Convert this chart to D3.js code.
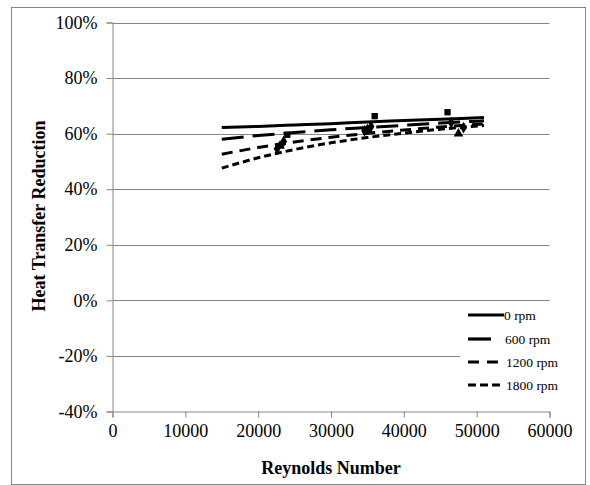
<!DOCTYPE html>
<html>
<head>
<meta charset="utf-8">
<script src="https://cdn.jsdelivr.net/npm/d3@7/dist/d3.min.js"></script>
<style>
  html, body { margin: 0; padding: 0; background: #fff; }
  svg { display: block; }
</style>
</head>
<body>
<svg id="chart" width="590" height="485"></svg>
<script>
// ---- data ----
const reynolds = [15000, 20000, 25000, 30000, 35000, 40000, 45000, 51000];
const rpm0    = [62.2, 62.6, 63.1, 63.6, 64.2, 64.7, 65.2, 65.8];
const rpm600  = [58.0, 59.3, 60.4, 61.4, 62.2, 63.0, 63.8, 64.6];
const rpm1200 = [52.6, 55.0, 57.0, 58.7, 60.1, 61.3, 62.4, 63.5];
const rpm1800 = [47.6, 51.3, 54.3, 56.7, 58.6, 60.2, 61.6, 62.9];

// measured points
const ptRe0    = [24000, 36000, 46000];
const ptVal0   = [59.6, 66.3, 67.7];
const ptRe600  = [23500, 35500, 46500];
const ptVal600 = [57.2, 62.6, 64.0];
const ptRe1200 = [23000, 35000, 47500];
const ptVal1200= [55.6, 61.6, 60.0];
const ptRe1800 = [22600, 34600, 48200];
const ptVal1800= [54.6, 61.0, 62.2];

const seriesNames = ["0 rpm", "600 rpm", "1200 rpm", "1800 rpm"];
const yTicks = [-40, -20, 0, 20, 40, 60, 80, 100];
const xTicks = [0, 10000, 20000, 30000, 40000, 50000, 60000];
const xTitle = "Reynolds Number";
const yTitle = "Heat Transfer Reduction";

// ---- styles ----
const dashes = [null, "22,9", "11,7", "7,4"];
const legendDashes = [null, "23,40", "11,8", "8,4"];
const legendLens = [36, 23, 31, 36];

const svg = d3.select("#chart");
const serif = "'Liberation Serif', 'Times New Roman', serif";
const axisColor = "#868686";

// outer border
svg.append("rect").attr("x", 11.5).attr("y", 7.5).attr("width", 574).attr("height", 477)
  .attr("fill", "#fff").attr("stroke", axisColor).attr("stroke-width", 1);

const x = d3.scaleLinear().domain([0, 60000]).range([112.5, 549.5]);
const y = d3.scaleLinear().domain([-40, 100]).range([411.5, 22.5]);

// gridlines
svg.append("g").selectAll("line").data(yTicks.filter(d => d !== -40)).join("line")
  .attr("x1", x(0)).attr("x2", x(60000))
  .attr("y1", d => Math.round(y(d)) + 0.5).attr("y2", d => Math.round(y(d)) + 0.5)
  .attr("stroke", axisColor).attr("stroke-width", 1);

// y axis
const yAxis = svg.append("g").attr("transform", `translate(${x(0)},0)`)
  .call(d3.axisLeft(y).tickValues(yTicks).tickFormat(d => d + "%").tickSize(6).tickPadding(9));
// x axis
const xAxis = svg.append("g").attr("transform", `translate(0,${y(-40)})`)
  .call(d3.axisBottom(x).tickValues(xTicks).tickFormat(d3.format("d")).tickSize(6).tickPadding(7));

[yAxis, xAxis].forEach(g => {
  g.select(".domain").attr("stroke", axisColor);
  g.selectAll(".tick line").attr("stroke", axisColor);
  g.selectAll(".tick text").attr("fill", "#000").style("font-family", serif).style("font-size", "18px");
});

// curves
const allSeries = [rpm0, rpm600, rpm1200, rpm1800];
const line = d3.line().x(d => x(d[0])).y(d => y(d[1])).curve(d3.curveMonotoneX);
allSeries.forEach((vals, i) => {
  const pts = reynolds.map((r, j) => [r, vals[j]]);
  svg.append("path").attr("d", line(pts))
    .attr("fill", "none").attr("stroke", "#000").attr("stroke-width", 3)
    .attr("stroke-dasharray", dashes[i]);
});

// markers
const sym = [d3.symbolSquare, d3.symbolDiamond, d3.symbolTriangle, d3.symbolDiamond];
const ptsRe = [ptRe0, ptRe600, ptRe1200, ptRe1800];
const ptsVal = [ptVal0, ptVal600, ptVal1200, ptVal1800];
ptsRe.forEach((res, i) => {
  svg.append("g").selectAll("path").data(res.map((r, j) => [r, ptsVal[i][j]])).join("path")
    .attr("transform", d => `translate(${x(d[0])},${y(d[1])})`)
    .attr("d", d3.symbol().type(sym[i]).size(40))
    .attr("fill", "#000");
});

// legend
const lg = svg.append("g");
lg.append("rect").attr("x", 460).attr("y", 304).attr("width", 92).attr("height", 94).attr("fill", "#fff");
const rowY = [315, 339, 362, 385];
const textX = [504, 505, 506, 506];
seriesNames.forEach((name, i) => {
  lg.append("line").attr("x1", 468).attr("x2", 468 + legendLens[i])
    .attr("y1", rowY[i]).attr("y2", rowY[i])
    .attr("stroke", "#000").attr("stroke-width", 3.2)
    .attr("stroke-dasharray", legendDashes[i]);
  lg.append("text").attr("x", textX[i]).attr("y", rowY[i]).attr("dy", "0.35em")
    .style("font-family", serif).style("font-size", "13.5px").attr("fill", "#000")
    .text(name);
});

// axis titles
svg.append("text").attr("x", 331).attr("y", 468).attr("text-anchor", "middle").attr("dy", "0.35em")
  .style("font-family", serif).style("font-size", "18px").style("font-weight", "bold")
  .text(xTitle);
svg.append("text").attr("transform", "translate(39,216) rotate(-90)")
  .attr("text-anchor", "middle").attr("dy", "0.35em")
  .style("font-family", serif).style("font-size", "18px").style("font-weight", "bold")
  .text(yTitle);
</script>
</body>
</html>
